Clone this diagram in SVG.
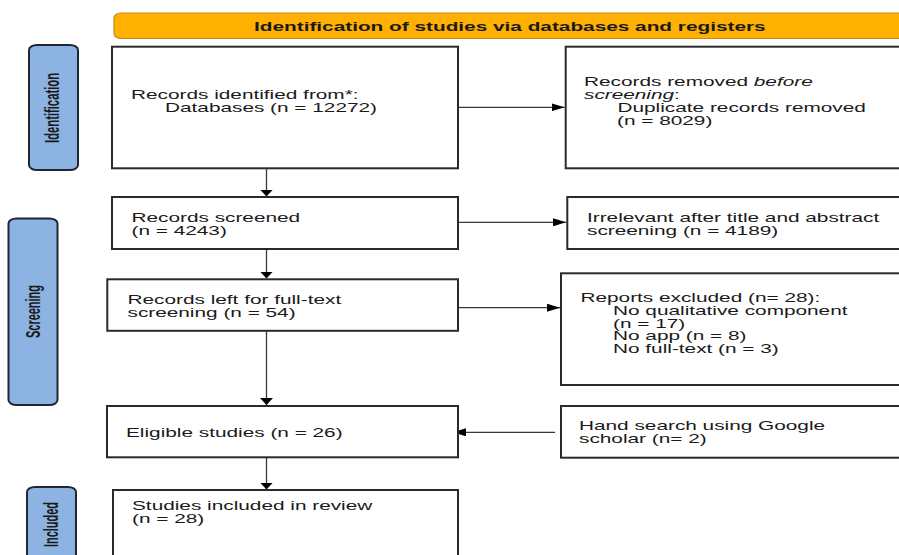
<svg xmlns="http://www.w3.org/2000/svg" width="899" height="555" viewBox="0 0 899 555">
<style>
.bg{fill:#ffffff}
.box{fill:#ffffff;stroke:#2a2a2a;stroke-width:2}
.side{fill:#8db3e2;stroke:#1e2733;stroke-width:2}
.hdr{fill:#ffb000;stroke:#c58a10;stroke-width:1.2}
.t{font-family:"Liberation Sans",Arial,sans-serif;font-size:13px;fill:#1a1a1a}
.b{font-weight:bold}
.sl{font-family:"Liberation Sans",Arial,sans-serif;font-size:13px;font-weight:bold;fill:#1a1a1a;text-anchor:middle}
.c{fill:none;stroke:#3a3a3a;stroke-width:1.3}
</style>
<defs>
<marker id="ah" markerUnits="userSpaceOnUse" markerWidth="13" markerHeight="8" refX="13" refY="4" orient="auto">
<path d="M0,0 L13,4 L0,8 z" fill="#000"/>
</marker>
<marker id="av" markerUnits="userSpaceOnUse" markerWidth="13" markerHeight="7" refX="6.5" refY="7" orient="0">
<path d="M0,0 L13,0 L6.5,7 z" fill="#000"/>
</marker>
</defs>
<rect class="bg" x="0" y="0" width="899" height="555"/>

<g id="header">
<rect class="hdr" x="114" y="13" width="800" height="25.5" rx="7" ry="5"/>
<text class="t b" transform="translate(254,30.7) scale(1.6,1)">Identification of studies via databases and registers</text>
</g>

<g id="label-identification">
<rect class="side" x="29" y="45" width="49" height="125" rx="8" ry="5"/>
<text class="sl" transform="translate(58.5,108) scale(1.6,1) rotate(-90)" textLength="70" lengthAdjust="spacingAndGlyphs">Identification</text>
</g>
<g id="label-screening">
<rect class="side" x="8.5" y="218.5" width="49" height="186.5" rx="8" ry="5"/>
<text class="sl" transform="translate(39.5,311.5) scale(1.6,1) rotate(-90)" textLength="53" lengthAdjust="spacingAndGlyphs">Screening</text>
</g>
<g id="label-included">
<rect class="side" x="27" y="487" width="49" height="90" rx="8" ry="5"/>
<text class="sl" transform="translate(57.5,524.5) scale(1.6,1) rotate(-90)" textLength="45" lengthAdjust="spacingAndGlyphs">Included</text>
</g>

<g id="connectors">
<line class="c" x1="458" y1="107.3" x2="564.5" y2="107.3" marker-end="url(#ah)"/>
<line class="c" x1="458" y1="222.3" x2="566" y2="222.3" marker-end="url(#ah)"/>
<line class="c" x1="458" y1="307.7" x2="560" y2="307.7" marker-end="url(#ah)"/>
<line class="c" x1="555" y1="432.3" x2="453" y2="432.3" marker-end="url(#ah)"/>
<line class="c" x1="266.5" y1="168" x2="266.5" y2="196.5" marker-end="url(#av)"/>
<line class="c" x1="266.5" y1="249" x2="266.5" y2="278.5" marker-end="url(#av)"/>
<line class="c" x1="266.5" y1="331" x2="266.5" y2="405" marker-end="url(#av)"/>
<line class="c" x1="266.5" y1="457.5" x2="266.5" y2="489.5" marker-end="url(#av)"/>
</g>

<g id="records-identified">
<rect class="box" x="112" y="46.7" width="346" height="121.6"/>
<text class="t" transform="translate(131,99.3) scale(1.6,1)">Records identified from*:</text>
<text class="t" transform="translate(165,112.2) scale(1.6,1)">Databases (n = 12272)</text>
</g>

<g id="records-removed">
<rect class="box" x="565.7" y="46.7" width="345" height="121.6"/>
<text class="t" transform="translate(584,86) scale(1.6,1)">Records removed <tspan font-style="italic">before</tspan></text>
<text class="t" transform="translate(584,99) scale(1.6,1)"><tspan font-style="italic">screening</tspan>:</text>
<text class="t" transform="translate(617.5,112) scale(1.6,1)">Duplicate records removed</text>
<text class="t" transform="translate(617,125) scale(1.6,1)">(n = 8029)</text>
</g>

<g id="records-screened">
<rect class="box" x="112" y="197" width="346" height="52"/>
<text class="t" transform="translate(131.5,221.7) scale(1.6,1)">Records screened</text>
<text class="t" transform="translate(131.5,234.7) scale(1.6,1)">(n = 4243)</text>
</g>

<g id="irrelevant">
<rect class="box" x="567.3" y="197" width="345" height="52"/>
<text class="t" transform="translate(587,221.7) scale(1.6,1)">Irrelevant after title and abstract</text>
<text class="t" transform="translate(587,234.7) scale(1.6,1)">screening (n = 4189)</text>
</g>

<g id="records-full-text">
<rect class="box" x="107.3" y="279.3" width="350.7" height="51.5"/>
<text class="t" transform="translate(127.5,304) scale(1.6,1)">Records left for full-text</text>
<text class="t" transform="translate(127.5,317) scale(1.6,1)">screening (n = 54)</text>
</g>

<g id="reports-excluded">
<rect class="box" x="561" y="273.3" width="350" height="111.7"/>
<text class="t" transform="translate(580.5,301.7) scale(1.6,1)">Reports excluded (n= 28):</text>
<text class="t" transform="translate(613,314.5) scale(1.6,1)">No qualitative component</text>
<text class="t" transform="translate(613,327.5) scale(1.6,1)">(n = 17)</text>
<text class="t" transform="translate(613,340.3) scale(1.6,1)">No app (n = 8)</text>
<text class="t" transform="translate(613,353.3) scale(1.6,1)">No full-text (n = 3)</text>
</g>

<g id="eligible">
<rect class="box" x="107" y="406" width="351" height="51.3"/>
<text class="t" transform="translate(126,436.7) scale(1.6,1)">Eligible studies (n = 26)</text>
</g>

<g id="hand-search">
<rect class="box" x="561" y="406" width="350" height="51.7"/>
<text class="t" transform="translate(579,430) scale(1.6,1)">Hand search using Google</text>
<text class="t" transform="translate(579,443) scale(1.6,1)">scholar (n= 2)</text>
</g>

<g id="included">
<rect class="box" x="113" y="490" width="345" height="80"/>
<text class="t" transform="translate(132,510) scale(1.6,1)">Studies included in review</text>
<text class="t" transform="translate(132,523) scale(1.6,1)">(n = 28)</text>
</g>
</svg>
